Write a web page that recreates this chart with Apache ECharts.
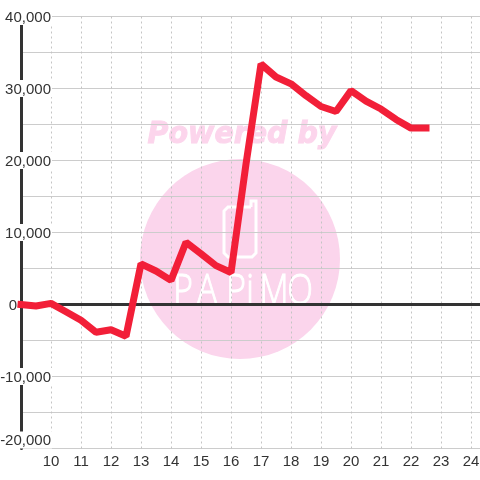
<!DOCTYPE html>
<html>
<head>
<meta charset="utf-8">
<style>
html, body { margin: 0; padding: 0; background: #fff; }
#main { width: 480px; height: 480px; }
</style>
<script src="https://cdn.jsdelivr.net/npm/echarts@6/dist/echarts.min.js"></script>
</head>
<body>
<div id="main"></div>
<script>
// half hour steps, 9:00 to 22:30
const hours = [9, 9.5, 10, 10.5, 11, 11.5, 12, 12.5, 13, 13.5, 14, 14.5, 15, 15.5, 16, 16.5,
    17, 17.5, 18, 18.5, 19, 19.5, 20, 20.5, 21, 21.5, 22, 22.5];
const balance = [0, -200, 150, -1000, -2200, -3850, -3500, -4400, 5650, 4650, 3350, 8650, 7050, 5400, 4450, 19500,
    33400, 31600, 30650, 29000, 27500, 26800, 29700, 28250, 27150, 25700, 24500, 24500];
const zeroLine = [[9, 0], [25, 0]];
const logoLetters = ['P', 'A', 'P', 'i', 'M', 'O'];
const logoLetterX = [183, 207, 236, 250, 274, 300];

const lineData = hours.map((h, i) => [h, balance[i]]);

const chart = echarts.init(document.getElementById('main'));

const watermark = [
    { type: 'circle', z: -10, shape: { cx: 240, cy: 259, r: 100 }, style: { fill: '#fbd5ec' } },
    {
        type: 'text', z: -9, x: 242, y: 135, scaleX: 0.95,
        style: {
            text: 'Powered by', fill: '#fcd5ec', stroke: '#fcd5ec', lineWidth: 1, align: 'center', verticalAlign: 'middle',
            font: 'italic bold 30px "DejaVu Sans"'
        }
    },
    {
        type: 'polyline', z: -9,
        shape: { points: [[251, 207], [228, 207], [224, 211], [224, 253], [228, 257], [252, 257], [256, 253], [256, 201], [251, 201], [251, 207]] },
        style: { fill: 'none', stroke: '#fff', lineWidth: 3 }
    }
].concat(logoLetters.map((ch, i) => ({
    type: 'text', z: -9, x: logoLetterX[i], y: 292, scaleX: 0.8,
    style: {
        text: ch, fill: '#fff', stroke: '#fff', lineWidth: 1, align: 'center', verticalAlign: 'middle',
        font: '300 42px "Open Sans"'
    }
})));

chart.setOption({
    animation: false,
    backgroundColor: '#fff',
    graphic: { elements: watermark },
    grid: { left: 21, top: 16.5, width: 480, height: 432, outerBoundsMode: 'none' },
    xAxis: {
        type: 'value', min: 9, max: 25, interval: 1,
        axisLine: { show: false },
        axisTick: { show: false },
        axisLabel: {
            color: '#333', fontSize: 15, fontFamily: 'Liberation Sans', margin: 6,
            formatter: v => (v < 10 ? '' : String(v))
        },
        splitLine: { show: true, lineStyle: { color: '#c4c4c4', type: [2, 3], width: 1 } }
    },
    yAxis: {
        type: 'value', min: -20000, max: 40000, interval: 5000,
        axisLine: { show: true, onZero: false, lineStyle: { color: '#333', width: 3 } },
        axisTick: { show: false },
        axisLabel: {
            margin: -31, align: 'right',
            verticalAlignMinLabel: 'bottom',
            formatter: v => {
                if (v % 10000 !== 0) return '';
                if (v === 0) return '{z|0}';
                return '{v|' + v.toLocaleString('en-US') + '}';
            },
            rich: {
                v: { color: '#333', fontSize: 15, fontFamily: 'Liberation Sans', backgroundColor: '#fff', padding: [2, 1, 0, 1] },
                z: { color: '#333', fontSize: 15, fontFamily: 'Liberation Sans', padding: [2, 35, 0, 0] }
            }
        },
        splitLine: { show: true, lineStyle: { color: '#ccc', width: 1 } }
    },
    series: [
        {
            type: 'line',
            z: 1,
            data: zeroLine,
            symbol: 'none',
            silent: true,
            lineStyle: { color: '#333', width: 3 }
        },
        {
            type: 'line',
            z: 3,
            data: lineData,
            symbol: 'none',
            clip: false,
            lineStyle: { color: '#f21f38', width: 7, cap: 'square', join: 'bevel' }
        }
    ]
});
</script>
</body>
</html>
